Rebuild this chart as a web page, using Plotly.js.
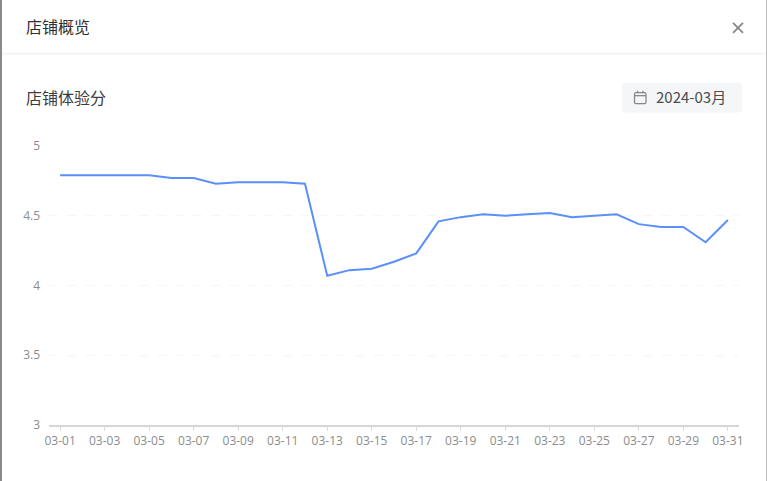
<!DOCTYPE html>
<html>
<head>
<meta charset="utf-8">
<script src="https://cdn.plot.ly/plotly-3.0.1.min.js"></script>
<style>html,body{margin:0;padding:0;background:#fff;overflow:hidden}#c{width:767px;height:481px}</style>
</head>
<body>
<div id="c"></div>
<script>
const dates = ['03-01','03-02','03-03','03-04','03-05','03-06','03-07','03-08','03-09','03-10','03-11','03-12','03-13','03-14','03-15','03-16','03-17','03-18','03-19','03-20','03-21','03-22','03-23','03-24','03-25','03-26','03-27','03-28','03-29','03-30','03-31'];
const scores = [4.79,4.79,4.79,4.79,4.79,4.77,4.77,4.73,4.74,4.74,4.74,4.73,4.07,4.11,4.12,4.17,4.23,4.46,4.49,4.51,4.50,4.51,4.52,4.49,4.50,4.51,4.44,4.42,4.42,4.31,4.47];
const yTicks = [3,3.5,4,4.5,5];
const tickDates = dates.filter((d,i)=>i%2===0);
const modalTitle = '店铺概览';
const chartTitle = '店铺体验分';
const monthLabel = '2024-03月';

const L=49,R=739,T=145.5,B=425.5;
const px=x=>(x-L)/(R-L), py=y=>(B-y)/(B-T);
const cjk='"Noto Sans CJK SC","Noto Sans",sans-serif';
const box=(x0,y0,x1,y1,fill)=>({type:'rect',xref:'paper',yref:'paper',x0:px(x0),x1:px(x1),y0:py(y0),y1:py(y1),fillcolor:fill,line:{width:0},layer:'below'});
const seg=(x0,y0,x1,y1,color,w)=>({type:'line',xref:'paper',yref:'paper',x0:px(x0),x1:px(x1),y0:py(y0),y1:py(y1),line:{color:color,width:w}});
const rrect=(x0,y0,x1,y1,r)=>{const X=v=>px(v),Y=v=>py(v);
  return `M${X(x0+r)},${Y(y0)} L${X(x1-r)},${Y(y0)} Q${X(x1)},${Y(y0)} ${X(x1)},${Y(y0+r)} L${X(x1)},${Y(y1-r)} Q${X(x1)},${Y(y1)} ${X(x1-r)},${Y(y1)} L${X(x0+r)},${Y(y1)} Q${X(x0)},${Y(y1)} ${X(x0)},${Y(y1-r)} L${X(x0)},${Y(y0+r)} Q${X(x0)},${Y(y0)} ${X(x0+r)},${Y(y0)} Z`;};
const rshape=(x0,y0,x1,y1,r,fill,line,w)=>({type:'path',xref:'paper',yref:'paper',path:rrect(x0,y0,x1,y1,r),fillcolor:fill,line:{color:line,width:w},layer:'below'});

const shapes=[
  box(0,-2,2,483,'#8a8a8a'),
  box(766,-2,767,483,'#bdbdbd'),
  box(2,52.5,766,53.5,'#ececec'),
  rshape(622,82,742,112,4,'#f5f6f7','rgba(0,0,0,0)',0),
  rshape(634.5,92,646,103,1.5,'rgba(0,0,0,0)','#85878a',1.3),
  seg(634.5,95,646,95,'#85878a',1.3),
  seg(637.5,90,637.5,92.5,'#85878a',1.3),
  seg(643,90,643,92.5,'#85878a',1.3),
  seg(733,22,743,32,'#85878a',1.8),
  seg(743,22,733,32,'#85878a',1.8)
];
const note=(x,y,text,size,color,font)=>({xref:'paper',yref:'paper',x:px(x),y:py(y),text,showarrow:false,xanchor:'left',yanchor:'middle',borderpad:0,borderwidth:0,font:{size,color,family:font}});
const annotations=[
  note(25.5,25,modalTitle,16,'#2c2f33',cjk),
  note(25.5,96.5,chartTitle,16,'#3a3d40',cjk),
  note(656,96,monthLabel,15,'#4a4d50',cjk)
];

Plotly.newPlot('c',[{
  type:'scatter',mode:'lines',x:dates,y:scores,
  line:{color:'#5b8ff9',width:2,shape:'linear'},
  hoverinfo:'x+y',cliponaxis:false
}],{
  width:767,height:481,
  margin:{l:L,r:767-R,t:T,b:481-B,pad:0},
  paper_bgcolor:'#fff',plot_bgcolor:'#fff',
  showlegend:false,
  font:{family:'"Open Sans","Noto Sans",sans-serif',size:12,color:'#8c8c8c'},
  xaxis:{type:'category',categoryorder:'array',categoryarray:dates,range:[-0.5,30.5],
    tickmode:'array',tickvals:tickDates,ticktext:tickDates,
    ticks:'outside',ticklen:4,tickwidth:1,tickcolor:'#d9d9d9',
    showline:true,linecolor:'#d6d6d6',linewidth:1.5,showgrid:false,zeroline:false,
    tickfont:{size:12,color:'#8c8c8c'},tickangle:0,automargin:false},
  yaxis:{range:[3,5],tickmode:'array',tickvals:yTicks,ticktext:yTicks.map(String),
    showgrid:true,gridcolor:'#f7f7f7',griddash:'dash',gridwidth:1,zeroline:false,showline:false,
    ticks:'',ticklabelstandoff:8,tickfont:{size:12,color:'#8c8c8c'},automargin:false},
  shapes,annotations
},{displayModeBar:false});
</script>
</body>
</html>
